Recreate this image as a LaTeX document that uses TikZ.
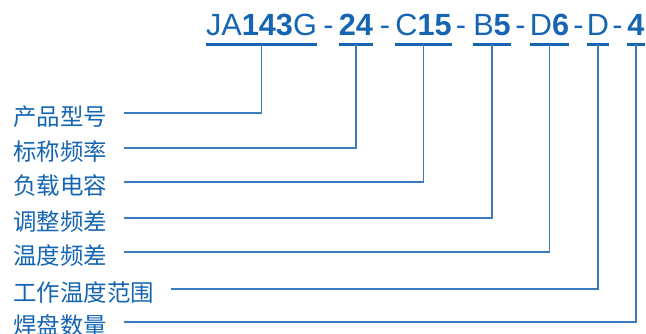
\documentclass[tikz,border=0pt]{standalone}
\usepackage{fontspec}
\setmainfont{Liberation Sans}
\newfontfamily\cjk{Noto Sans CJK SC}
\definecolor{partblue}{RGB}{21,101,179}
\tikzset{
  code/.style={inner sep=0pt, anchor=base, text=partblue, font=\fontsize{23}{23}\selectfont},
  dashsep/.style={code},
  lab/.style={inner sep=0pt, anchor=base west, text=partblue, font=\cjk\fontsize{17.6}{18}\selectfont},
  uline/.style={draw=partblue, line width=2.25pt},
  link/.style={draw=partblue!85, line width=1pt}
}
\begin{document}
\begin{tikzpicture}[x=0.75pt,y=-0.75pt]
  \useasboundingbox (0,0) rectangle (646,333);
  % part number, one piece per field
  \foreach \n/\x/\t in {1/261.5/{JA\textbf{143}G}, 2/356/{\textbf{24}}, 3/423.5/{C\textbf{15}},
      4/492/{B\textbf{5}}, 5/549.5/{D\textbf{6}}, 6/598/{D}, 7/636/{\textbf{4}}}{
    \node[code] (s\n) at (\x,35) {\t};
    \draw[uline] ([yshift=-6.75pt]s\n.base west) -- ([yshift=-6.75pt]s\n.base east);
  }
  \foreach \n/\x in {1/328.5,2/385,3/461,4/520.5,5/578.5,6/617.5}
    \node[dashsep] (d\n) at (\x,35) {-};
  % field names
  \foreach \n/\y/\t in {1/125/产品型号, 2/160/标称频率, 3/194/负载电容, 4/230/调整频差,
      5/264/温度频差, 6/301/工作温度范围, 7/334/焊盘数量}
    \node[lab] (l\n) at (13,\y) {\t};
  \foreach \n in {1,...,7}
    \draw[link] ([xshift=12.75pt,yshift=9pt]l\n.base east) -| ([yshift=-6.75pt]s\n.base);
\end{tikzpicture}
\end{document}
